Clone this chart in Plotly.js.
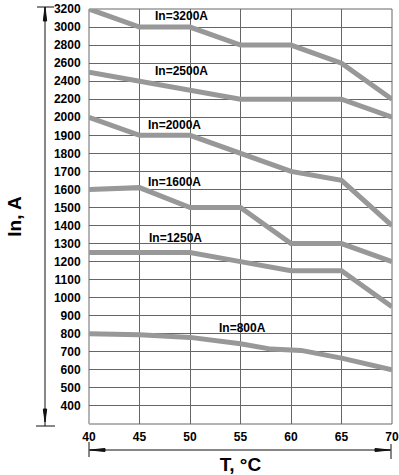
<!DOCTYPE html>
<html>
<head>
<meta charset="utf-8">
<script src="https://cdn.plot.ly/plotly-3.0.1.min.js"></script>
<style>html,body{margin:0;padding:0;background:#fff;}#chart{width:399px;height:475px;}</style>
</head>
<body>
<div id="chart"></div>
<script>
// ---- data ----
const temps = [40, 45, 50, 55, 60, 65, 70];
const in3200 = [3200, 3000, 3000, 2800, 2800, 2600, 2200];
const in2500 = [2500, 2400, 2300, 2200, 2200, 2200, 2000];
const in2000 = [2000, 1900, 1900, 1800, 1700, 1650, 1400];
const in1600 = [1600, 1610, 1500, 1500, 1300, 1300, 1200];
const in1250 = [1250, 1250, 1250, 1200, 1150, 1150, 950];
const temps800 = [40, 45, 50, 52.5, 55, 58, 61, 65, 70];
const in800 = [800, 795, 780, 765, 745, 715, 708, 665, 600];
const yTickValues = [400, 500, 600, 700, 800, 900, 1000, 1100, 1200, 1300, 1400, 1500, 1600, 1700, 1800, 1900, 2000, 2200, 2400, 2600, 2800, 3000, 3200];
const xTickValues = [40, 45, 50, 55, 60, 65, 70];
const seriesNames = ['In=3200A', 'In=2500A', 'In=2000A', 'In=1600A', 'In=1250A', 'In=800A'];

// The chart's current axis is piecewise: 100 A per grid step up to 2000 A, 200 A per step above.
function yScale(v) { return v <= 2000 ? (v - 300) / 100 : 17 + (v - 2000) / 200; }

const lineStyle = { color: 'rgb(152,152,152)', width: 5 };
const series = [
  [temps, in3200], [temps, in2500], [temps, in2000], [temps, in1600], [temps, in1250], [temps800, in800]
];
const traces = series.map((s, i) => ({
  x: s[0], y: s[1].map(yScale), customdata: s[1], name: seriesNames[i],
  type: 'scatter', mode: 'lines', line: lineStyle, hoverinfo: 'skip', showlegend: false
}));

// pixel -> paper helpers for decorations
const L = 89, R = 392, T = 9, B = 424;
const px = x => (x - L) / (R - L);
const py = y => (B - y) / (B - T);

const font = { family: 'Liberation Sans, Arial, sans-serif', color: '#000', weight: 'bold' };
const labelPos = [[46.3, 22.59], [46.3, 19.54], [45.62, 16.58], [45.69, 13.44], [45.75, 10.30], [52.7, 5.31]];
const annotations = seriesNames.map((n, i) => ({
  x: labelPos[i][0], y: labelPos[i][1], xref: 'x', yref: 'y', text: n, showarrow: false,
  xanchor: 'left', yanchor: 'middle', font: Object.assign({}, font, { size: 12 })
}));

const dark = '#111';
const shapes = [
  { type: 'rect', xref: 'paper', yref: 'paper', x0: 0, x1: 1, y0: 0, y1: 1, line: { color: '#666', width: 1 }, layer: 'below' },
  { type: 'line', xref: 'paper', yref: 'paper', x0: 0, x1: 0, y0: 0, y1: 1, line: { color: '#b4b4b4', width: 2 }, layer: 'below' },
  // vertical arrow
  { type: 'line', xref: 'paper', yref: 'paper', x0: px(45), x1: px(45), y0: py(7), y1: py(426), line: { color: dark, width: 1 } },
  { type: 'line', xref: 'paper', yref: 'paper', x0: px(37), x1: px(54), y0: py(7), y1: py(7), line: { color: dark, width: 1 } },
  { type: 'line', xref: 'paper', yref: 'paper', x0: px(36), x1: px(55), y0: py(426), y1: py(426), line: { color: dark, width: 1 } },
  { type: 'path', xref: 'paper', yref: 'paper', path: `M ${px(45)} ${py(7)} L ${px(43.3)} ${py(21)} L ${px(46.7)} ${py(21)} Z`, fillcolor: dark, line: { color: dark, width: 1 } },
  { type: 'path', xref: 'paper', yref: 'paper', path: `M ${px(45)} ${py(422)} L ${px(43.3)} ${py(409)} L ${px(46.7)} ${py(409)} Z`, fillcolor: dark, line: { color: dark, width: 1 } },
  // horizontal arrow
  { type: 'line', xref: 'paper', yref: 'paper', x0: px(89), x1: px(391), y0: py(450), y1: py(450), line: { color: dark, width: 1 } },
  { type: 'line', xref: 'paper', yref: 'paper', x0: px(89), x1: px(89), y0: py(442), y1: py(457), line: { color: dark, width: 1 } },
  { type: 'line', xref: 'paper', yref: 'paper', x0: px(391), x1: px(391), y0: py(444), y1: py(459), line: { color: dark, width: 1 } },
  { type: 'path', xref: 'paper', yref: 'paper', path: `M ${px(90)} ${py(450)} L ${px(105)} ${py(448.5)} L ${px(105)} ${py(451.5)} Z`, fillcolor: dark, line: { color: dark, width: 1 } },
  { type: 'path', xref: 'paper', yref: 'paper', path: `M ${px(390)} ${py(450)} L ${px(375)} ${py(448.5)} L ${px(375)} ${py(451.5)} Z`, fillcolor: dark, line: { color: dark, width: 1 } }
];

const layout = {
  width: 399, height: 475,
  margin: { l: L, r: 399 - R, t: T, b: 475 - B },
  paper_bgcolor: '#fff', plot_bgcolor: '#fff',
  showlegend: false,
  xaxis: {
    range: [40, 70], tickvals: xTickValues, ticktext: xTickValues.map(String),
    showgrid: true, gridcolor: '#666', gridwidth: 1, zeroline: false, showline: false,
    ticks: 'outside', ticklen: 2, tickcolor: 'rgba(0,0,0,0)',
    tickfont: Object.assign({}, font, { size: 12 }),
    title: { text: 'T, °C', font: Object.assign({}, font, { size: 19 }), standoff: 20 }
  },
  yaxis: {
    range: [0, 23], tickvals: yTickValues.map(yScale), ticktext: yTickValues.map(String),
    showgrid: true, gridcolor: '#666', gridwidth: 1, zeroline: false, showline: false,
    ticks: 'outside', ticklen: 5, tickcolor: 'rgba(0,0,0,0)',
    tickfont: Object.assign({}, font, { size: 12 }),
    title: { text: 'In, A', font: Object.assign({}, font, { size: 19 }), standoff: 27 }
  },
  annotations: annotations,
  shapes: shapes
};

Plotly.newPlot('chart', traces, layout, { displayModeBar: false, staticPlot: true });
</script>
</body>
</html>
